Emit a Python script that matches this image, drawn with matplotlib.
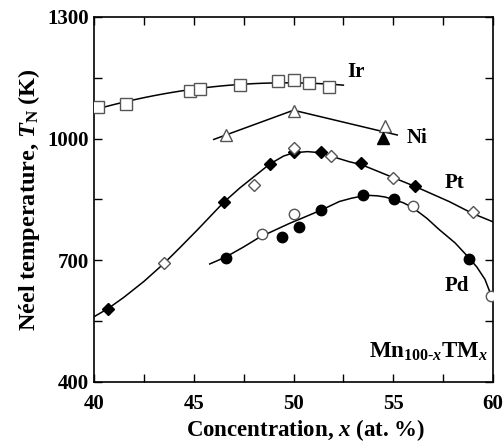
import numpy as np
import matplotlib
matplotlib.use("Agg")
import matplotlib.pyplot as plt

plt.rcParams['font.family'] = 'Liberation Serif'
plt.rcParams['font.weight'] = 'bold'
plt.rcParams['axes.labelweight'] = 'bold'
plt.rcParams['mathtext.fontset'] = 'custom'
plt.rcParams['mathtext.rm'] = 'Liberation Serif:bold'
plt.rcParams['mathtext.it'] = 'Liberation Serif:italic:bold'
plt.rcParams['mathtext.bf'] = 'Liberation Serif:bold'

# Ir (open squares)
ir_x = [40.2, 41.6, 44.8, 45.3, 47.3, 49.2, 50.0, 50.8, 51.8]
ir_y = [1079, 1086, 1118, 1122, 1133, 1142, 1145, 1137, 1127]

# Ni (triangles)
ni_x = [46.6, 50.0, 54.6]
ni_y = [1009, 1068, 1031]
ni_fill_x = [54.5]
ni_fill_y = [1001]
ni_line_x = [46.0, 50.0, 55.2]
ni_line_y = [998, 1070, 1009]

# Pt (diamonds)
pt_fill_x = [40.7, 46.5, 48.8, 50.0, 51.4, 53.4, 56.1]
pt_fill_y = [580, 844, 937, 968, 966, 939, 882]
pt_open_x = [43.5, 48.0, 50.0, 51.9, 55.0, 59.0]
pt_open_y = [694, 885, 978, 956, 904, 820]
# guide curve for Pt
pt_line_x = [40.0, 40.7, 41.5, 42.5, 43.5, 44.3, 45.2, 46.5, 47.3, 48.8, 49.5, 50.0,
             50.7, 51.4, 52.0, 52.8, 53.4, 54.9, 56.1, 57.8, 59.0, 60.0]
pt_line_y = [561, 581, 609, 648, 692, 731, 776, 843, 878, 937, 957, 965,
             968, 965, 955, 943, 936, 906, 882, 845, 815, 795]

# Pd (circles)
pd_fill_x = [46.6, 49.4, 50.3, 51.4, 53.5, 55.05, 58.8]
pd_fill_y = [705, 758, 783, 824, 861, 851, 703]
pd_open_x = [48.4, 50.0, 56.0, 59.9]
pd_open_y = [765, 814, 834, 613]
# guide curve for Pd
pd_line_x = [45.8, 46.6, 47.5, 48.3, 49.8, 51.4, 52.3, 52.9, 53.4, 53.8, 54.2, 54.6, 55.0,
             55.5, 55.9, 56.3, 56.7, 57.3, 58.1, 58.8, 59.2, 59.6, 59.9]
pd_line_y = [691, 708, 733, 757, 791, 824, 845, 853, 858, 860, 859, 856, 850,
             842, 832, 818, 803, 776, 743, 706, 683, 653, 615]

fig = plt.figure(figsize=(5.03, 4.46), dpi=100)
ax = fig.add_axes([0.187, 0.1435, 0.793, 0.8185])

# fitted guide curve for Ir
c = np.polyfit(ir_x, ir_y, 2)
xx = np.linspace(40, 52.5, 100)
ax.plot(xx, np.polyval(c, xx), color='black', lw=1.1, zorder=1)

ax.plot(ni_line_x, ni_line_y, color='black', lw=1.1, zorder=1)
ax.plot(pt_line_x, pt_line_y, color='black', lw=1.1, zorder=1)
ax.plot(pd_line_x, pd_line_y, color='black', lw=1.1, zorder=1)

ax.plot(ir_x, ir_y, 's', ms=8.5, mfc='white', mec='#555555', mew=1.0, zorder=3)
ax.plot(ni_x, ni_y, '^', ms=8, mfc='white', mec='#555555', mew=1.0, zorder=3)
ax.plot(ni_fill_x, ni_fill_y, '^', ms=8, mfc='black', mec='black', zorder=3)
ax.plot(pt_fill_x, pt_fill_y, 'D', ms=6.5, mfc='black', mec='black', zorder=3)
ax.plot(pt_open_x, pt_open_y, 'D', ms=6.5, mfc='white', mec='#555555', mew=1.0, zorder=3)
ax.plot(pd_fill_x, pd_fill_y, 'o', ms=7.5, mfc='black', mec='black', zorder=3)
ax.plot(pd_open_x, pd_open_y, 'o', ms=7.5, mfc='white', mec='#555555', mew=1.0, zorder=3)

ax.text(52.7, 1152, 'Ir', fontsize=15)
ax.text(55.65, 990, 'Ni', fontsize=15)
ax.text(57.6, 878, 'Pt', fontsize=15)
ax.text(57.6, 625, 'Pd', fontsize=15)
ax.text(59.75, 460, r'Mn$_{100\text{-}x}$TM$_x$', fontsize=16.5, ha='right')

ax.set_xlim(40, 60)
ax.set_ylim(400, 1300)
ax.set_xticks([40, 45, 50, 55, 60])
ax.set_yticks([400, 700, 1000, 1300])
ax.set_xticks(np.arange(40, 60.1, 2.5), minor=True)
ax.set_yticks(np.arange(400, 1301, 150), minor=True)
ax.tick_params(which='both', direction='in', top=True, right=True, labelsize=15, width=1.0)
ax.tick_params(which='major', length=6)
ax.tick_params(which='minor', length=6)
ax.tick_params(axis='x', pad=9)
for s in ax.spines.values():
    s.set_linewidth(1.2)

ax.set_xlabel(r'Concentration, $x$ (at. %)', fontsize=16.5, labelpad=2)
ax.xaxis.label.set_x(0.53)
ax.set_ylabel(r'Néel temperature, $T_{\rm N}$ (K)', fontsize=17.5, labelpad=4)

fig.savefig('out.png', dpi=100)
